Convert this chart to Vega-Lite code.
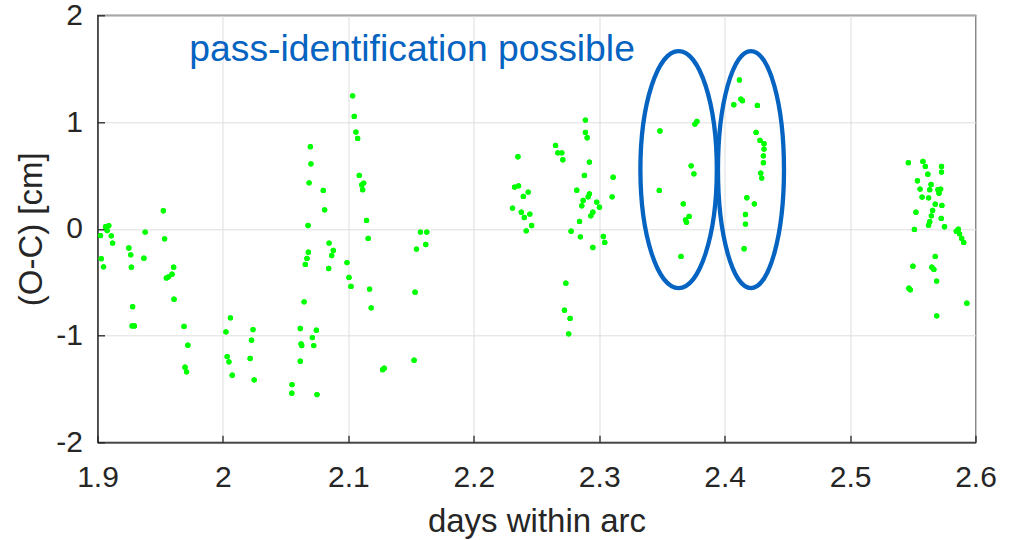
{
  "$schema": "https://vega.github.io/schema/vega-lite/v6.json",
  "width": 878,
  "height": 427,
  "autosize": {"type": "none"},
  "padding": {"left": 97.5, "top": 15.3, "right": 37.5, "bottom": 98},
  "config": {
    "font": "Liberation Sans",
    "view": {"stroke": "#262626", "strokeWidth": 1.3},
    "axis": {
      "grid": true,
      "gridColor": "#dedede",
      "gridWidth": 1,
      "domainColor": "#262626",
      "domainWidth": 1.3,
      "ticks": true,
      "tickColor": "#262626",
      "tickWidth": 1.3,
      "tickSize": -7,
      "labelFontSize": 30,
      "labelColor": "#262626",
      "labelFlush": false,
      "labelOverlap": false,
      "titleFontSize": 33,
      "titleColor": "#262626",
      "titleFontWeight": "normal"
    }
  },
  "datasets": {
    "pts": [
      {"x":1.9024,"y":-0.063},{"x":1.9064,"y":0.02},{"x":1.909,"y":0.03},{"x":1.9077,"y":-0.016},{"x":1.911,"y":-0.066},
      {"x":1.912,"y":-0.134},{"x":1.903,"y":-0.28},{"x":1.9048,"y":-0.356},{"x":1.925,"y":-0.18},{"x":1.9265,"y":-0.244},
      {"x":1.927,"y":-0.36},{"x":1.937,"y":-0.275},{"x":1.938,"y":-0.031},{"x":1.928,"y":-0.73},{"x":1.9276,"y":-0.91},
      {"x":1.9294,"y":-0.91},{"x":1.9525,"y":0.169},{"x":1.9535,"y":-0.094},{"x":1.9607,"y":-0.36},{"x":1.9594,"y":-0.425},
      {"x":1.9549,"y":-0.46},{"x":1.9567,"y":-0.45},{"x":1.961,"y":-0.66},{"x":1.969,"y":-0.915},{"x":1.972,"y":-1.09},
      {"x":1.9698,"y":-1.296},{"x":1.971,"y":-1.34},{"x":2.006,"y":-0.834},{"x":2.0024,"y":-0.965},{"x":2.0034,"y":-1.197},
      {"x":2.0048,"y":-1.246},{"x":2.0074,"y":-1.371},{"x":2.024,"y":-0.944},{"x":2.0228,"y":-1.043},{"x":2.0217,"y":-1.215},
      {"x":2.0249,"y":-1.415},{"x":2.0551,"y":-1.459},{"x":2.0549,"y":-1.54},{"x":2.0617,"y":-1.24},{"x":2.0623,"y":-1.078},
      {"x":2.0628,"y":-1.094},{"x":2.0617,"y":-0.934},{"x":2.0647,"y":-0.684},{"x":2.0657,"y":-0.334},{"x":2.067,"y":-0.278},
      {"x":2.0681,"y":-0.219},{"x":2.0679,"y":0.031},{"x":2.0687,"y":0.431},{"x":2.0702,"y":0.609},{"x":2.0697,"y":0.769},
      {"x":2.0713,"y":-1.019},{"x":2.0724,"y":-1.094},{"x":2.0745,"y":-0.95},{"x":2.075,"y":-1.553},{"x":2.08,"y":0.359},
      {"x":2.0811,"y":0.178},{"x":2.0846,"y":-0.134},{"x":2.088,"y":-0.203},{"x":2.0867,"y":-0.25},{"x":2.0843,"y":-0.372},
      {"x":2.0989,"y":-0.316},{"x":2.1005,"y":-0.456},{"x":2.1021,"y":-0.54},{"x":2.1034,"y":1.246},{"x":2.1047,"y":1.053},
      {"x":2.106,"y":0.906},{"x":2.1074,"y":0.847},{"x":2.1087,"y":0.5},{"x":2.1122,"y":0.428},{"x":2.1106,"y":0.412},
      {"x":2.1114,"y":0.366},{"x":2.1145,"y":0.078},{"x":2.1158,"y":-0.09},{"x":2.1169,"y":-0.565},{"x":2.1182,"y":-0.74},
      {"x":2.1286,"y":-1.306},{"x":2.1273,"y":-1.32},{"x":2.1524,"y":-1.231},{"x":2.1532,"y":-0.594},{"x":2.1543,"y":-0.19},
      {"x":2.1575,"y":-0.031},{"x":2.1625,"y":-0.031},{"x":2.1617,"y":-0.147},
      {"x":2.2352,"y":0.675},{"x":2.2325,"y":0.391},{"x":2.2357,"y":0.403},{"x":2.2309,"y":0.194},{"x":2.2395,"y":0.303},
      {"x":2.2434,"y":0.344},{"x":2.2379,"y":0.156},{"x":2.2403,"y":0.106},{"x":2.2447,"y":0.138},{"x":2.2461,"y":0.031},
      {"x":2.2418,"y":-0.019},{"x":2.2652,"y":0.781},{"x":2.267,"y":0.712},{"x":2.2702,"y":0.712},{"x":2.271,"y":0.647},
      {"x":2.289,"y":1.019},{"x":2.289,"y":0.903},{"x":2.2904,"y":0.853},{"x":2.2922,"y":0.625},{"x":2.2882,"y":0.5},
      {"x":2.2821,"y":0.362},{"x":2.2922,"y":0.328},{"x":2.2912,"y":0.3},{"x":2.2872,"y":0.266},{"x":2.2861,"y":0.216},
      {"x":2.298,"y":0.25},{"x":2.3002,"y":0.203},{"x":2.2949,"y":0.156},{"x":2.2933,"y":0.122},{"x":2.2843,"y":0.069},
      {"x":2.2776,"y":-0.022},{"x":2.285,"y":-0.075},{"x":2.2949,"y":-0.175},{"x":2.3033,"y":-0.072},{"x":2.3044,"y":-0.128},
      {"x":2.3111,"y":0.484},{"x":2.3103,"y":0.3},{"x":2.2734,"y":-0.509},{"x":2.2723,"y":-0.762},{"x":2.2768,"y":-0.84},
      {"x":2.2757,"y":-0.984},
      {"x":2.3484,"y":0.916},{"x":2.3479,"y":0.359},{"x":2.3652,"y":-0.259},{"x":2.367,"y":0.234},{"x":2.3688,"y":0.084},
      {"x":2.3717,"y":0.116},{"x":2.3696,"y":0.062},{"x":2.3733,"y":0.59},{"x":2.3755,"y":0.515},{"x":2.3763,"y":0.981},
      {"x":2.3779,"y":1.006},
      {"x":2.4118,"y":1.394},{"x":2.4073,"y":1.162},{"x":2.4129,"y":1.215},{"x":2.4142,"y":1.2},{"x":2.4261,"y":1.156},
      {"x":2.4251,"y":0.903},{"x":2.4282,"y":0.828},{"x":2.4314,"y":0.797},{"x":2.4314,"y":0.747},{"x":2.4309,"y":0.684},
      {"x":2.4309,"y":0.619},{"x":2.4288,"y":0.522},{"x":2.4296,"y":0.475},{"x":2.4177,"y":0.291},{"x":2.4237,"y":0.234},
      {"x":2.4166,"y":0.134},{"x":2.4166,"y":0.044},{"x":2.4155,"y":-0.187},
      {"x":2.5465,"y":0.619},{"x":2.5581,"y":0.631},{"x":2.56,"y":0.584},{"x":2.562,"y":0.512},{"x":2.5729,"y":0.584},
      {"x":2.5729,"y":0.531},{"x":2.5537,"y":0.45},{"x":2.5646,"y":0.416},{"x":2.5558,"y":0.372},{"x":2.5635,"y":0.366},
      {"x":2.5701,"y":0.366},{"x":2.5722,"y":0.372},{"x":2.5709,"y":0.334},{"x":2.5574,"y":0.297},{"x":2.5626,"y":0.29},
      {"x":2.5679,"y":0.231},{"x":2.5732,"y":0.219},{"x":2.5525,"y":0.156},{"x":2.5658,"y":0.172},{"x":2.5648,"y":0.122},
      {"x":2.5727,"y":0.097},{"x":2.5635,"y":0.066},{"x":2.5626,"y":0.034},{"x":2.5753,"y":0.019},{"x":2.5513,"y":-0.006},
      {"x":2.5847,"y":-0.022},{"x":2.5863,"y":-0.003},{"x":2.5873,"y":-0.047},{"x":2.589,"y":-0.09},{"x":2.5906,"y":-0.128},
      {"x":2.5679,"y":-0.259},{"x":2.5501,"y":-0.35},{"x":2.5652,"y":-0.36},{"x":2.5668,"y":-0.381},{"x":2.569,"y":-0.49},
      {"x":2.5469,"y":-0.556},{"x":2.548,"y":-0.572},{"x":2.5931,"y":-0.697},{"x":2.5691,"y":-0.815}
    ]
  },
  "layer": [
    {
      "data": {"name": "pts"},
      "mark": {"type": "point", "filled": true, "shape": "circle", "size": 28, "color": "#00ff00", "opacity": 1},
      "encoding": {
        "x": {
          "field": "x",
          "type": "quantitative",
          "scale": {"domain": [1.9, 2.6], "nice": false, "zero": false},
          "axis": {"values": [1.9, 2, 2.1, 2.2, 2.3, 2.4, 2.5, 2.6], "labelExpr": "'' + datum.value", "labelPadding": 27, "title": "days within arc", "titlePadding": 13, "grid": true}
        },
        "y": {
          "field": "y",
          "type": "quantitative",
          "scale": {"domain": [-2, 2], "nice": false, "zero": false},
          "axis": {"values": [-2, -1, 0, 1, 2], "labelExpr": "'' + datum.value", "labelPadding": 22, "title": "(O-C) [cm]", "titlePadding": 7, "grid": true}
        }
      }
    },
    {
      "mark": {"type": "rule", "color": "#0000ff", "strokeWidth": 4},
      "encoding": {
        "y": {"datum": 0, "type": "quantitative"}
      }
    },
    {
      "data": {"name": "pts"},
      "mark": {"type": "point", "filled": true, "shape": "circle", "size": 28, "color": "#00ff00", "opacity": 1},
      "encoding": {
        "x": {"field": "x", "type": "quantitative"},
        "y": {"field": "y", "type": "quantitative"}
      }
    },
    {
      "data": {"values": [{"x": 2.3633, "y": 0.555}]},
      "mark": {
        "type": "point",
        "shape": "M 0 -1 C 0.1781 -1 0.3224 -0.5523 0.3224 0 C 0.3224 0.5523 0.1781 1 0 1 C -0.1781 1 -0.3224 0.5523 -0.3224 0 C -0.3224 -0.5523 -0.1781 -1 0 -1 Z",
        "size": 56169,
        "filled": false,
        "stroke": "#0563C1",
        "strokeWidth": 4.3,
        "opacity": 1
      },
      "encoding": {
        "x": {"field": "x", "type": "quantitative"},
        "y": {"field": "y", "type": "quantitative"}
      }
    },
    {
      "data": {"values": [{"x": 2.421, "y": 0.555}]},
      "mark": {
        "type": "point",
        "shape": "M 0 -1 C 0.1538 -1 0.2785 -0.5523 0.2785 0 C 0.2785 0.5523 0.1538 1 0 1 C -0.1538 1 -0.2785 0.5523 -0.2785 0 C -0.2785 -0.5523 -0.1538 -1 0 -1 Z",
        "size": 56169,
        "filled": false,
        "stroke": "#0563C1",
        "strokeWidth": 4.3,
        "opacity": 1
      },
      "encoding": {
        "x": {"field": "x", "type": "quantitative"},
        "y": {"field": "y", "type": "quantitative"}
      }
    },
    {
      "data": {"values": [{"x": 1.9732, "y": 1.572, "label": "pass-identification possible"}]},
      "mark": {"type": "text", "align": "left", "baseline": "alphabetic", "fontSize": 37.3, "color": "#0563C1"},
      "encoding": {
        "x": {"field": "x", "type": "quantitative"},
        "y": {"field": "y", "type": "quantitative"},
        "text": {"field": "label"}
      }
    }
  ]
}
